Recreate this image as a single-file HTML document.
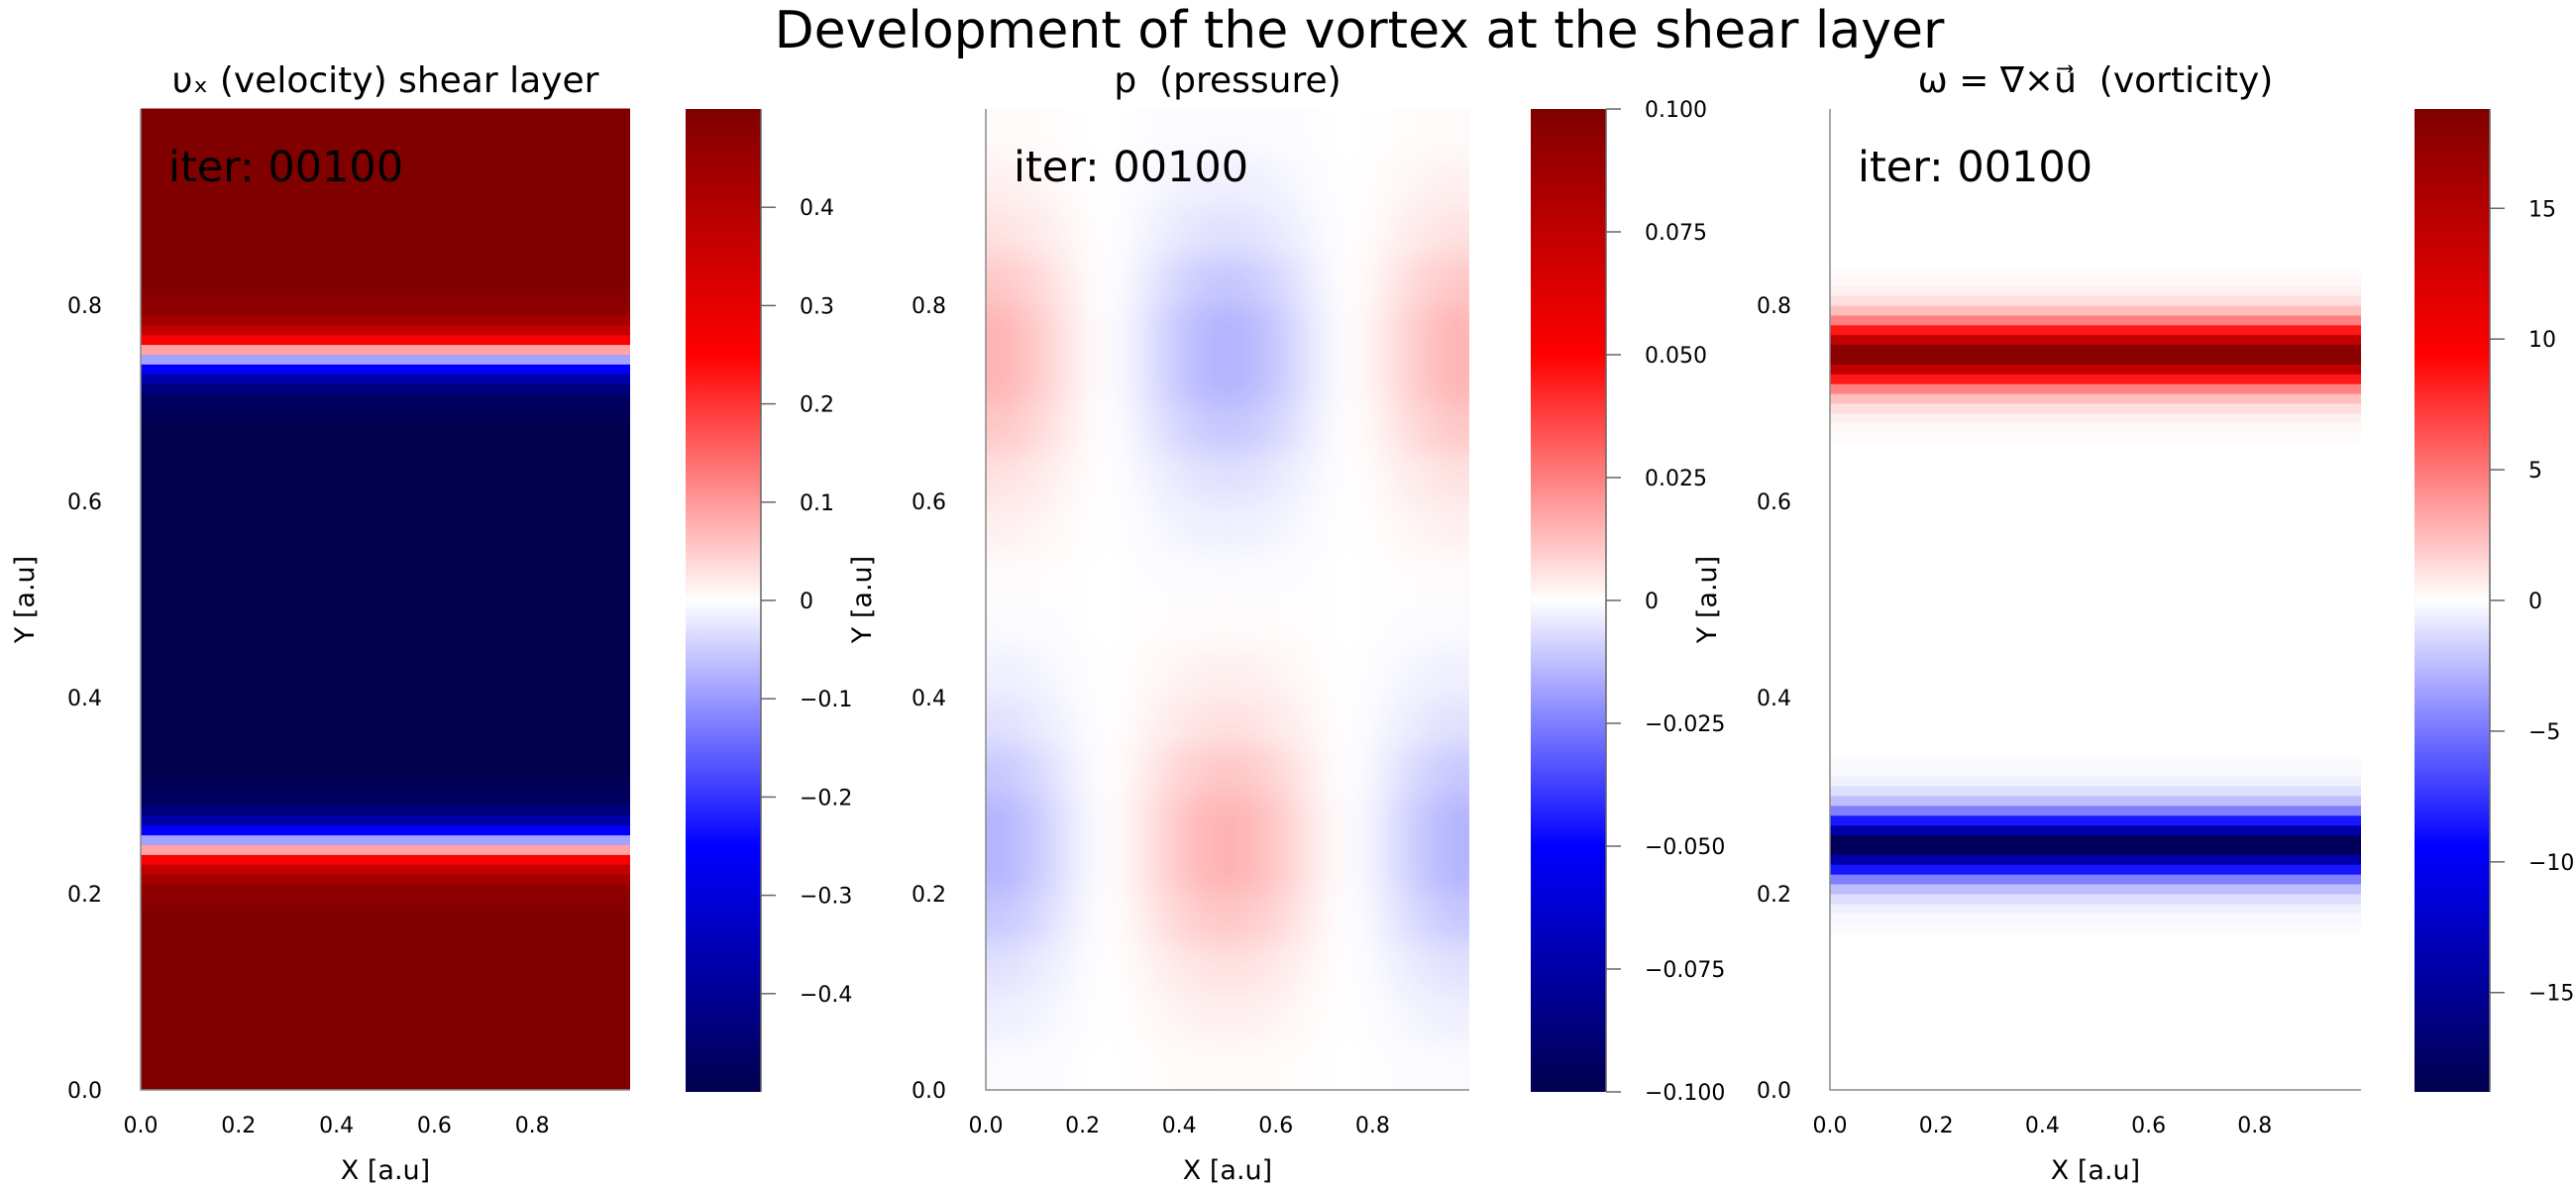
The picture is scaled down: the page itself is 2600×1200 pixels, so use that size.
<!DOCTYPE html>
<html><head><meta charset="utf-8"><style>
html,body{margin:0;padding:0;background:#fff}
svg{display:block;font-family:"DejaVu Sans","Liberation Sans",sans-serif}
</style></head><body>
<svg id="fig" width="2600" height="1200" viewBox="0 0 2600 1200" xmlns="http://www.w3.org/2000/svg">
<defs>
<linearGradient id="seis" x1="0" y1="1" x2="0" y2="0">
<stop offset="0" stop-color="rgb(0,0,77)"/><stop offset="0.25" stop-color="rgb(0,0,255)"/><stop offset="0.5" stop-color="#fff"/><stop offset="0.75" stop-color="rgb(255,0,0)"/><stop offset="1" stop-color="rgb(128,0,0)"/>
</linearGradient>
<filter id="blur" x="-10%" y="-10%" width="120%" height="120%"><feGaussianBlur stdDeviation="14"/></filter>
<clipPath id="clip2"><rect x="995" y="110" width="488" height="990"/></clipPath>
</defs>
<text x="1372" y="48" font-size="52" text-anchor="middle">Development of the vortex at the shear layer</text>
<g id="layer"></g>
</svg>
<script>
// ---- data ----
const yTicks = [0.0, 0.2, 0.4, 0.6, 0.8];
const xTicks = [0.0, 0.2, 0.4, 0.6, 0.8];
// vx profile: 100 bins in y, centers 0.005..0.995
const vxProfile = [
0.5,0.5,0.5,0.5,0.5,0.5,0.5,0.5,0.5,0.5,0.5,0.5,0.5,0.5,0.5,0.5,0.5,0.5,
0.49,0.48,0.47,0.43,0.37,0.26,0.09,-0.09,-0.26,-0.37,-0.43,-0.47,-0.48,-0.49,
-0.5,-0.5,-0.5,-0.5,-0.5,-0.5,-0.5,-0.5,-0.5,-0.5,-0.5,-0.5,-0.5,-0.5,-0.5,-0.5,-0.5,-0.5,
-0.5,-0.5,-0.5,-0.5,-0.5,-0.5,-0.5,-0.5,-0.5,-0.5,-0.5,-0.5,-0.5,-0.5,-0.5,-0.5,-0.5,-0.5,
-0.49,-0.48,-0.47,-0.43,-0.37,-0.26,-0.09,0.09,0.26,0.37,0.43,0.47,0.48,0.49,
0.5,0.5,0.5,0.5,0.5,0.5,0.5,0.5,0.5,0.5,0.5,0.5,0.5,0.5,0.5,0.5,0.5,0.5];
// vorticity profile: 100 bins in y
const wProfile = [
0,0,0,0,0,0,0,0,0,0,0,0,0,0,0,0,
-0.13,-0.27,-0.56,-1.2,-2.4,-4.7,-8.6,-13.9,-18.1,-18.1,-13.9,-8.6,-4.7,-2.4,-1.2,-0.56,-0.27,-0.13,
0,0,0,0,0,0,0,0,0,0,0,0,0,0,0,0,0,0,0,0,0,0,0,0,0,0,0,0,0,0,0,0,
0.13,0.27,0.56,1.2,2.4,4.7,8.6,13.9,18.1,18.1,13.9,8.6,4.7,2.4,1.2,0.56,0.27,0.13,
0,0,0,0,0,0,0,0,0,0,0,0,0,0,0,0];
// pressure: separable x and y profiles (20 bins each)
const pX = [0.99,0.84,0.6,0.3,0.06,-0.06,-0.3,-0.6,-0.84,-0.99,-0.99,-0.84,-0.6,-0.3,-0.06,0.06,0.3,0.6,0.84,0.99];
const pY = [-0.001,-0.003,-0.006,-0.011,-0.015,-0.015,-0.011,-0.006,-0.003,-0.001,0.001,0.003,0.006,0.011,0.015,0.015,0.011,0.006,0.003,0.001];
const cb1Ticks = [-0.4,-0.3,-0.2,-0.1,0,0.1,0.2,0.3,0.4];
const cb1Labels = ["\u22120.4","\u22120.3","\u22120.2","\u22120.1","0","0.1","0.2","0.3","0.4"];
const cb2Ticks = [-0.1,-0.075,-0.05,-0.025,0,0.025,0.05,0.075,0.1];
const cb2Labels = ["\u22120.100","\u22120.075","\u22120.050","\u22120.025","0","0.025","0.050","0.075","0.100"];
const cb3Ticks = [-15,-10,-5,0,5,10,15];
const cb3Labels = ["\u221215","\u221210","\u22125","0","5","10","15"];

const NS="http://www.w3.org/2000/svg";
const layer=document.getElementById('layer');
function mk(tag,attrs,parent){const e=document.createElementNS(NS,tag);for(const k in attrs)e.setAttribute(k,attrs[k]);(parent||layer).appendChild(e);return e;}
function seismic(t){
  t=Math.max(0,Math.min(1,t));
  const st=[[0,0,77],[0,0,255],[255,255,255],[255,0,0],[128,0,0]];
  const s=t*4,i=Math.min(3,Math.floor(s)),f=s-i;
  const a=st[i],b=st[i+1];
  return `rgb(${Math.round(a[0]+(b[0]-a[0])*f)},${Math.round(a[1]+(b[1]-a[1])*f)},${Math.round(a[2]+(b[2]-a[2])*f)})`;
}
const TOP=110,BOT=1100;
function yScale(v){return BOT-(BOT-TOP)*v;}

const panels=[
 {x0:142,x1:636,cb:692,vmax:0.5,ticks:cb1Ticks,labels:cb1Labels,title:"\u03C5\u2093 (velocity) shear layer",ylab:25,ytl:103,name:'velocity'},
 {x0:995,x1:1483,cb:1545,vmax:0.1,ticks:cb2Ticks,labels:cb2Labels,title:"p \u00A0(pressure)",ylab:870,ytl:955,name:'pressure'},
 {x0:1847,x1:2383,cb:2437,vmax:18.8,ticks:cb3Ticks,labels:cb3Labels,title:"\u03C9 = \u2207\u00D7u\u20D7 \u00A0(vorticity)",ylab:1723,ytl:1808,name:'vorticity'}
];

panels.forEach((P,pi)=>{
  const g=mk('g',{});
  
  
  const xS=v=>P.x0+(P.x1-P.x0)*v;
  const hm=mk('g',{},g);
  
  
  if(pi===0||pi===2){
    const prof=pi===0?vxProfile:wProfile;
    const n=prof.length;
    prof.forEach((v,k)=>{
      const ya=yScale((k+1)/n), yb=yScale(k/n);
      const r=mk('rect',{x:xS(0),y:ya-0.5,width:xS(1)-xS(0),height:yb-ya+1,fill:seismic(0.5+v/(2*P.vmax))},hm);
      
      
    });
  } else {
    hm.setAttribute('clip-path','url(#clip2)');
    const inner=mk('g',{filter:'url(#blur)'},hm);
    const nx=pX.length, ny=pY.length;
    for(let j=-1;j<=ny;j++){
      for(let i=-1;i<=nx;i++){
        const jj=Math.max(0,Math.min(ny-1,j)), ii=Math.max(0,Math.min(nx-1,i));
        const v=pX[ii]*pY[jj];
        const xa=xS(i/nx), xb=xS((i+1)/nx), ya=yScale((j+1)/ny), yb=yScale(j/ny);
        const r=mk('rect',{x:xa-0.5,y:ya-0.5,width:xb-xa+1,height:yb-ya+1,fill:seismic(0.5+v/(2*P.vmax))},inner);
        
        
      }
    }
  }
  const ax=mk('path',{d:`M${P.x0},${TOP} V${BOT} H${P.x1}`,stroke:'#888',fill:'none','stroke-width':1.5},g);
  
  
  xTicks.forEach(t=>{
    const tx=mk('text',{x:xS(t),y:1143,'font-size':22,'text-anchor':'middle'},g);tx.textContent=t.toFixed(1);
    
    
  });
  yTicks.forEach(t=>{
    const tx=mk('text',{x:P.ytl,y:yScale(t)+8,'font-size':22,'text-anchor':'end'},g);tx.textContent=t.toFixed(1);
    
    
  });
  const xl=mk('text',{x:(P.x0+P.x1)/2,y:1190,'font-size':27,'text-anchor':'middle'},g);xl.textContent='X [a.u]';
  
  
  const yl=mk('text',{x:0,y:0,'font-size':27,'text-anchor':'middle',transform:`translate(${P.ylab+9},605) rotate(-90)`},g);yl.textContent='Y [a.u]';
  
  
  const tt=mk('text',{x:(P.x0+P.x1)/2,y:93,'font-size':36,'text-anchor':'middle'},g);tt.textContent=P.title;
  
  
  const it=mk('text',{x:P.x0+28,y:183,'font-size':43},g);it.textContent='iter: 00100';
  
  
  const cbY0=110, cbY1=1102;
  const cbS=v=>cbY1-(cbY1-cbY0)*(v+P.vmax)/(2*P.vmax);
  const cr=mk('rect',{x:P.cb,y:cbY0,width:76,height:cbY1-cbY0,fill:'url(#seis)'},g);
  
  
  const cl=mk('line',{x1:P.cb+76,y1:cbY0,x2:P.cb+76,y2:cbY1,stroke:'#666','stroke-width':1.5},g);
  
  
  P.ticks.forEach((t,k)=>{
    const y=cbS(t);
    const tl=mk('line',{x1:P.cb+76,y1:y,x2:P.cb+91,y2:y,stroke:'#666','stroke-width':1.5},g);
    
    
    const tx=mk('text',{x:P.cb+115,y:y+8,'font-size':22},g);tx.textContent=P.labels[k];
    
    
  });
});
</script>
</body></html>
